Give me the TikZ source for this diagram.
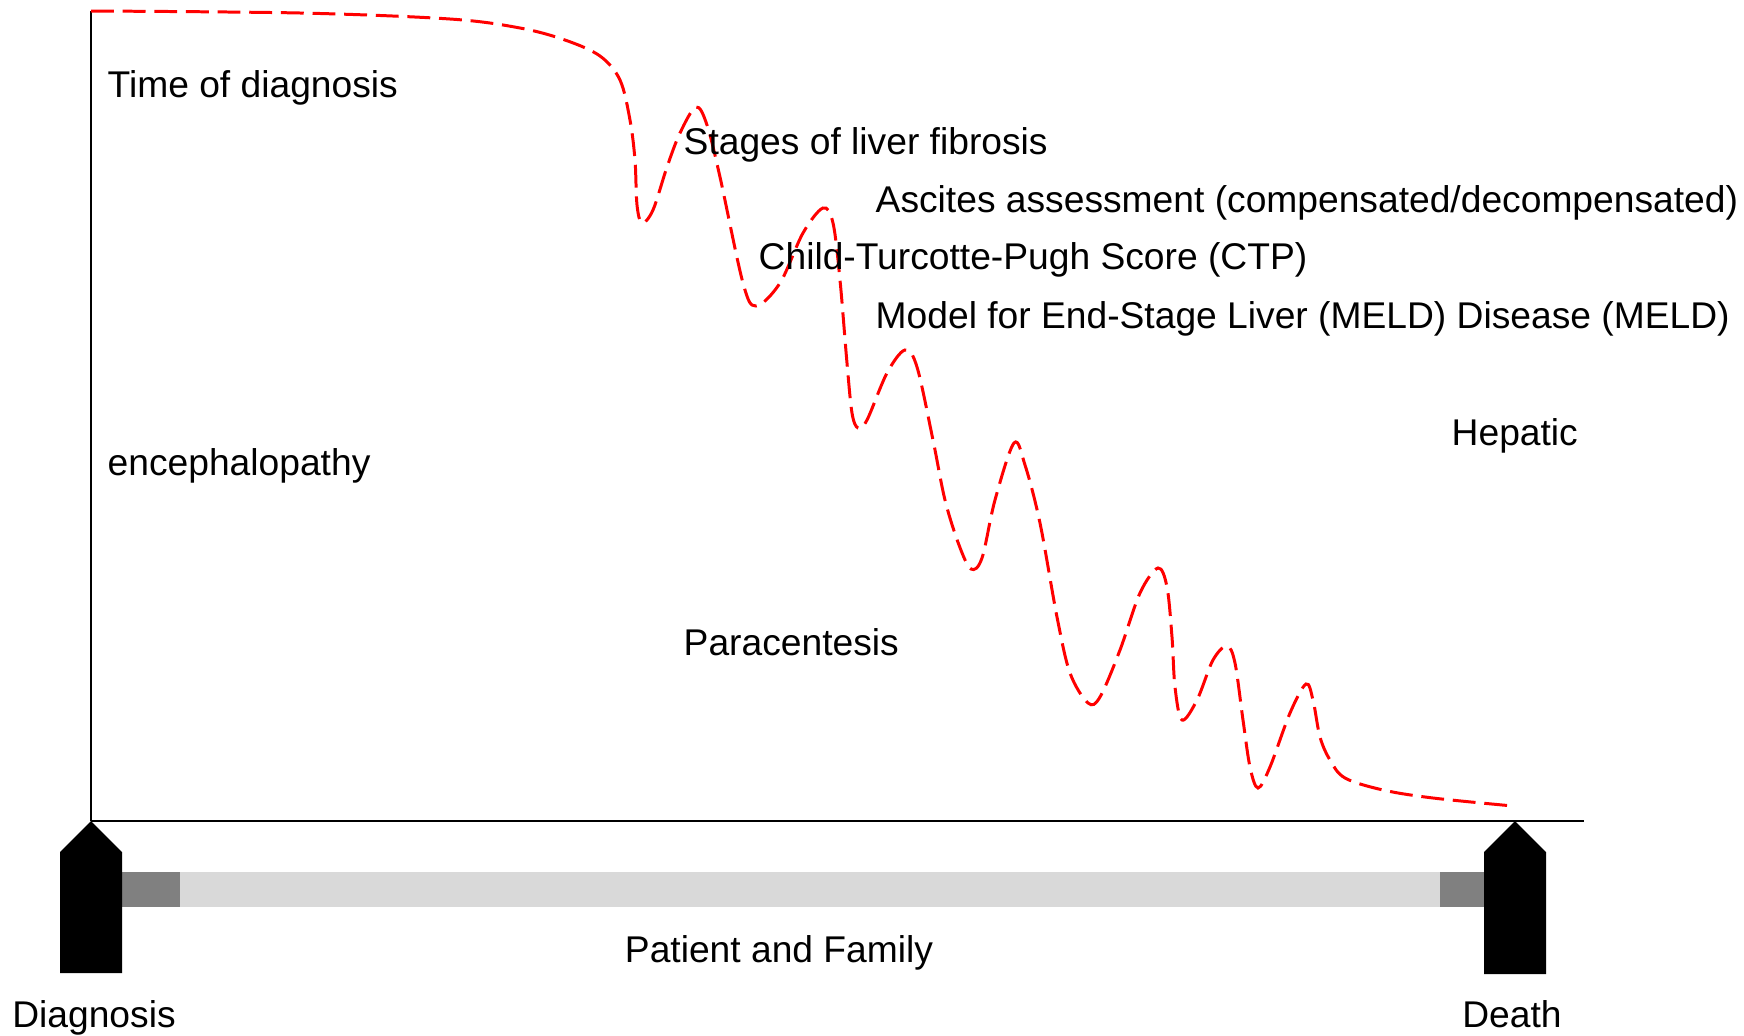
\documentclass[tikz,border=0pt]{standalone}
\usepackage{fontspec}
\setmainfont{Liberation Sans}

\begin{document}
\begin{tikzpicture}[x=0.01cm,y=-0.01cm,
  lbl/.style={inner sep=0pt, anchor=base west, font=\fontsize{10.58}{12.7}\selectfont},
  course/.style={red, line width=0.85pt, dash pattern=on 6.5pt off 2.5pt}]

  \useasboundingbox (0,0) rectangle (1744,1036);

  \coordinate (top) at (91,11);
  \coordinate (diag) at (91,821);
  \coordinate (death) at (1515,821);
  \coordinate (end) at (1584,821);

  % axes
  \draw[line width=0.6pt] (top) -- (diag); % y axis
  \draw[line width=0.6pt] (diag) -- (end); % time axis

  % patient and family bar
  \fill[black!15] (180,872) rectangle (1440,907);
  \fill[black!50] (122,872) rectangle (180,907);
  \fill[black!50] (1440,872) rectangle (1484,907);

  % markers
  \fill[black] (diag) -- (122,852) -- (122,973) -- (60,973) -- (60,852) -- cycle;
  \fill[black] (death) -- (1546,852) -- (1546,974) -- (1484,974) -- (1484,852) -- cycle;

  % disease course
  \draw[course] plot[smooth, tension=0.55] coordinates {
    (91,11) (300,13) (450,19) (520,28) (565,40) (600,56) (620,80) (630,120)
    (635,160) (637,205) (642,223) (653,210) (667,167) (680,133) (696,107)
    (707,125) (720,177) (743,283) (756,306) (780,283) (803,233) (823,208)
    (833,223) (840,280) (847,363) (852,413) (858,428) (867,420) (887,373)
    (905,350) (917,367) (933,440) (945,500) (959,545) (971,569) (982,558)
    (995,500) (1014,443) (1025,465) (1040,523) (1057,617) (1070,673) (1088,703)
    (1100,697) (1120,650) (1140,593) (1158,568) (1167,587) (1172,637) (1175,687)
    (1182,720) (1197,700) (1213,660) (1227,646) (1235,663) (1243,720) (1250,767)
    (1258,788) (1270,767) (1290,713) (1306,684) (1313,700) (1320,737) (1330,760)
    (1345,778) (1383,790) (1433,798) (1513,806)};

  % labels
  \node[lbl] (timediag) at (107,97) {Time of diagnosis};
  \node[lbl] (fibrosis) at (683,154) {Stages of liver fibrosis};
  \node[lbl] (ascites) at (875,212) {Ascites assessment (compensated/decompensated)};
  \node[lbl] (ctp) at (758,269) {Child-Turcotte-Pugh Score (CTP)};
  \node[lbl] (meld) at (875,328) {Model for End-Stage Liver (MELD) Disease (MELD)};
  \node[lbl] (hepatic) at (1451,445) {Hepatic};
  \node[lbl] (enceph) at (107,475) {encephalopathy};
  \node[lbl] (para) at (683,655) {Paracentesis};
  \node[lbl, anchor=base] (family) at (779,962) {Patient and Family};
  \node[lbl, anchor=base] (diaglbl) at (94,1027) {Diagnosis};
  \node[lbl, anchor=base] (deathlbl) at (1512,1027) {Death};

\end{tikzpicture}
\end{document}
